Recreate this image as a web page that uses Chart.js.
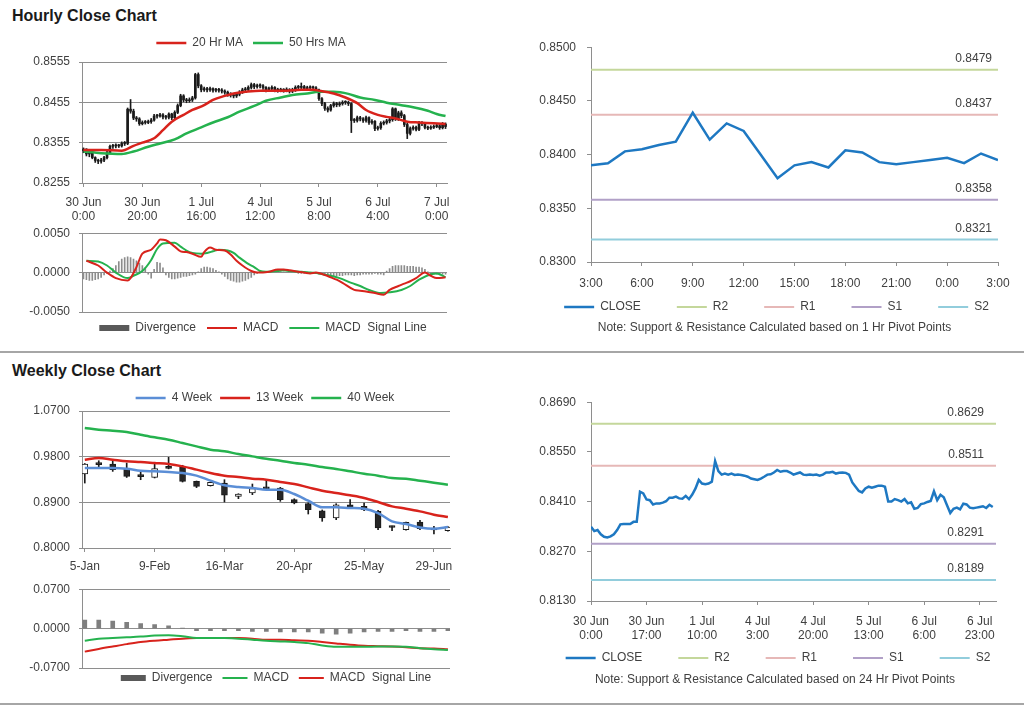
<!DOCTYPE html>
<html>
<head>
<meta charset="utf-8">
<title>Hourly and Weekly Close Charts</title>
<script src="https://cdn.jsdelivr.net/npm/chart.js@4.4.1/dist/chart.umd.min.js"></script>
<style>
  body { margin: 0; width: 1024px; height: 706px; position: relative; overflow: hidden; background: #fff; font-family: "Liberation Sans", Arial, sans-serif; }
  .title { position: absolute; left: 12px; font-size: 16px; font-weight: bold; color: #1a1a1a; }
  .rule { position: absolute; left: 0; width: 1024px; height: 2px; background: #a6a6a6; }
  canvas { position: absolute; }
</style>
</head>
<body>
<div class="title" style="top:7px">Hourly Close Chart</div>
<div class="rule" style="top:351px"></div>
<div class="title" style="top:362px">Weekly Close Chart</div>
<div class="rule" style="top:703px"></div>
<canvas id="hourCandles" width="502" height="200" style="left:0;top:28px"></canvas>
<canvas id="hourMacd" width="502" height="139" style="left:0;top:217px"></canvas>
<canvas id="hourPivots" width="534" height="338" style="left:490px;top:29px"></canvas>
<canvas id="weekCandles" width="502" height="201" style="left:0;top:379px"></canvas>
<canvas id="weekMacd" width="502" height="135" style="left:0;top:573px"></canvas>
<canvas id="dayPivots" width="534" height="338" style="left:490px;top:384px"></canvas>
<script>
// hourly bars, 30 Jun 0:00 -> 7 Jul 3:00, values in pips (0.xxxx)
const hOpen = [8335,8339,8327,8330,8318,8311,8309,8312,8318,8330,
  8346,8347,8347,8347,8353,8353,8438,8433,8416,8414,
  8402,8405,8405,8407,8411,8421,8421,8424,8419,8418,
  8426,8417,8430,8447,8471,8461,8459,8461,8466,8524,
  8496,8486,8489,8486,8489,8485,8486,8485,8483,8480,
  8475,8473,8471,8475,8480,8486,8487,8492,8499,8494,
  8496,8496,8492,8486,8489,8492,8486,8485,8486,8485,
  8486,8483,8486,8492,8492,8494,8489,8491,8492,8491,
  8486,8464,8452,8440,8436,8447,8452,8449,8452,8455,
  8455,8452,8410,8410,8417,8414,8410,8417,8405,8408,
  8390,8392,8403,8405,8409,8412,8439,8414,8429,8422,
  8400,8378,8390,8393,8388,8404,8402,8393,8391,8393,
  8395,8397,8392,8401];
const hHigh = [8342,8340,8333,8332,8320,8314,8316,8321,8334,8349,
  8351,8352,8351,8357,8358,8441,8462,8438,8420,8417,
  8409,8410,8411,8415,8425,8425,8428,8427,8423,8429,
  8428,8434,8451,8475,8474,8465,8466,8470,8527,8528,
  8499,8493,8492,8493,8491,8490,8490,8489,8486,8483,
  8479,8477,8479,8484,8490,8492,8496,8503,8502,8500,
  8501,8499,8494,8493,8496,8494,8490,8490,8489,8491,
  8489,8490,8496,8497,8503,8497,8495,8496,8495,8494,
  8488,8467,8455,8444,8450,8456,8455,8456,8459,8459,
  8458,8454,8415,8421,8420,8417,8421,8419,8412,8410,
  8396,8407,8409,8413,8416,8442,8441,8433,8434,8425,
  8403,8394,8397,8396,8408,8407,8405,8396,8397,8399,
  8401,8400,8405,8404];
const hLow = [8330,8322,8320,8315,8306,8303,8304,8308,8315,8327,
  8341,8342,8343,8344,8348,8350,8428,8412,8408,8398,
  8399,8401,8402,8403,8408,8416,8418,8414,8413,8414,
  8412,8414,8427,8444,8456,8454,8455,8457,8463,8491,
  8481,8482,8481,8482,8480,8481,8480,8478,8475,8470,
  8468,8466,8467,8471,8477,8482,8483,8488,8489,8490,
  8491,8487,8481,8482,8485,8481,8480,8481,8480,8481,
  8478,8479,8482,8487,8488,8484,8485,8486,8486,8480,
  8460,8447,8435,8431,8433,8443,8444,8445,8448,8450,
  8447,8380,8405,8406,8409,8405,8406,8400,8401,8385,
  8386,8388,8399,8401,8404,8408,8410,8410,8417,8395,
  8365,8374,8386,8384,8385,8397,8389,8387,8388,8390,
  8392,8388,8389,8390];
const hClose = [8339,8327,8330,8318,8311,8309,8312,8318,8330,8346,
  8347,8347,8347,8353,8353,8438,8433,8416,8414,8402,
  8405,8405,8407,8411,8421,8421,8424,8419,8418,8426,
  8417,8430,8447,8471,8461,8459,8461,8466,8524,8496,
  8486,8489,8486,8489,8485,8486,8485,8483,8480,8475,
  8473,8471,8475,8480,8486,8487,8492,8499,8494,8496,
  8496,8492,8486,8489,8492,8486,8485,8486,8485,8486,
  8483,8486,8492,8492,8494,8489,8491,8492,8491,8486,
  8464,8452,8440,8436,8447,8452,8449,8452,8455,8455,
  8452,8410,8410,8417,8414,8410,8417,8405,8408,8390,
  8392,8403,8405,8409,8412,8439,8414,8429,8422,8400,
  8378,8390,8393,8388,8404,8402,8393,8391,8393,8395,
  8397,8392,8401,8395];

// moving averages (bar index, pips)
const ma20X = [0,6,13,17,20,24,27,30,34,37,41,44,48,51,55,60,65,69,74,78,80,85,89,93,96,100,103,106,110,114,119,123];
const ma20 = [8337,8337,8335,8347,8355,8366,8386,8407,8424,8436,8448,8461,8471,8477,8481,8484,8484,8484,8486,8486,8484,8477,8467,8453,8436,8424,8419,8415,8407,8405,8403,8401];
const ma50X = [0,6,13,17,22,26,31,35,40,44,49,53,58,62,67,71,76,80,85,90,94,99,103,108,112,117,120,123];
const ma50 = [8333,8329,8327,8333,8345,8353,8363,8378,8393,8405,8418,8432,8446,8459,8467,8473,8477,8481,8481,8476,8467,8461,8454,8448,8443,8434,8426,8421];

// hourly MACD (units of 0.0001)
const macdX = [1,5,8,11,15,16,18,20,23,25,26,28,31,33,35,37,40,41,43,45,48,50,52,54,57,59,61,63,66,68,70,73,75,77,79,82,84,86,88,92,94,96,99,102,104,107,109,111,113,116,118,120,123];
const macd = [15,9,0,-7,-10,-7,7,24,29,37,42,41,33,27,26,24,20,26,32,29,28,23,15,9,2,0,0,1,4,4,3,1,0,-1,0,-3,-6,-9,-13,-22,-23,-24,-26,-28,-22,-17,-14,-11,-7,0,-4,-7,-6];
const sigX = [1,5,8,11,15,17,20,23,25,27,31,33,35,37,40,42,44,46,49,51,53,56,58,60,62,66,68,70,74,77,80,84,87,91,94,97,101,104,108,111,114,118,120,123];
const sig = [15,14,9,0,-7,-4,2,16,30,37,38,33,28,25,24,25,27,29,28,25,19,11,7,2,1,2,3,2,1,0,-1,-4,-7,-13,-17,-22,-26,-25,-22,-17,-9,-2,-1,-6];
const hDiv = [-8,-9,-10,-10,-9,-8,-6,-3,-1,2,
  5,9,14,17,19,20,19,17,15,12,
  9,6,-2,-7,4,13,12,6,-3,-6,
  -8,-8,-7,-6,-5,-5,-4,-3,-2,1,
  5,7,7,6,5,3,1,-2,-5,-8,
  -10,-11,-12,-12,-11,-10,-8,-6,-3,-1,
  1,1,1,1,1,0,1,1,1,0,
  0,0,0,-1,-1,-1,-1,-1,-1,-1,
  -2,-2,-3,-3,-3,-4,-4,-4,-4,-3,
  -3,-3,-4,-3,-3,-2,-2,-2,-2,-1,
  -2,-2,-3,2,5,8,9,9,9,9,
  8,8,8,7,7,6,4,1,-2,-2,
  -2,-3,-2,-2];

const hTickIdx = [0,20,40,60,80,100,120];
const hTickLabels = [["30 Jun","0:00"],["30 Jun","20:00"],["1 Jul","16:00"],["4 Jul","12:00"],["5 Jul","8:00"],["6 Jul","4:00"],["7 Jul","0:00"]];
const recentStart = 99;
const recentIdx = [0,3,6,9,12,15,18,21,24];
const recentLabels = ["3:00","6:00","9:00","12:00","15:00","18:00","21:00","0:00","3:00"];
const weekTickIdx = [0,17,34,51,68,85,102,119];
const weekTickLabels = [["30 Jun","0:00"],["30 Jun","17:00"],["1 Jul","10:00"],["4 Jul","3:00"],["4 Jul","20:00"],["5 Jul","13:00"],["6 Jul","6:00"],["6 Jul","23:00"]];

const pivotNames = ["R2","R1","S1","S2"];
const pivotColors = ["#c4d79b","#e6b8b7","#b1a0c7","#92cddc"];
const hourPivots = [0.8479,0.8437,0.8358,0.8321];
const dayPivots = [0.8629,0.8511,0.8291,0.8189];

// weekly bars
const wTickIdx = [0,5,10,15,20,25];
const wLabels = ["5-Jan","9-Feb","16-Mar","20-Apr","25-May","29-Jun"];
const wOpen = [0.9458,0.9665,0.9655,0.9557,0.9420,0.9393,0.9580,0.9590,0.9314,0.9228,0.9281,0.9019,0.9084,0.9175,0.9183,0.8952,0.8873,0.8735,0.8591,0.8853,0.8822,0.8723,0.8412,0.8361,0.8512,0.8365,0.8340];
const wClose = [0.9655,0.9642,0.9543,0.9413,0.9406,0.9563,0.9570,0.9314,0.9216,0.9295,0.9039,0.9064,0.9169,0.9165,0.8952,0.8887,0.8755,0.8591,0.8853,0.8802,0.8755,0.8394,0.8404,0.8506,0.8381,0.8355,0.8414];
const wHigh = [0.9665,0.9720,0.9720,0.9675,0.9510,0.9675,0.9787,0.9630,0.9320,0.9300,0.9346,0.9070,0.9261,0.9346,0.9196,0.8970,0.8890,0.8750,0.8873,0.8952,0.8887,0.8740,0.8430,0.8510,0.8546,0.8427,0.8420];
const wLow = [0.9280,0.9600,0.9510,0.9390,0.9346,0.9380,0.9560,0.9300,0.9190,0.9220,0.8907,0.8972,0.9051,0.9150,0.8920,0.8870,0.8670,0.8526,0.8558,0.8788,0.8735,0.8360,0.8340,0.8350,0.8360,0.8276,0.8330];
const w4 = [0.9577,0.9577,0.9577,0.9564,0.9524,0.9511,0.9498,0.9478,0.9426,0.9327,0.9235,0.9202,0.9182,0.9149,0.9149,0.9064,0.8932,0.8801,0.8801,0.8788,0.8775,0.8689,0.8525,0.8472,0.8406,0.8380,0.8413];
const w13 = [0.9741,0.9774,0.9741,0.9708,0.9695,0.9675,0.9655,0.9609,0.9544,0.9478,0.9426,0.9399,0.9366,0.9346,0.9300,0.9261,0.9195,0.9130,0.9084,0.9038,0.8985,0.8906,0.8821,0.8775,0.8722,0.8657,0.8611];
const w40 = [1.0365,1.0332,1.0312,1.0286,1.0233,1.0181,1.0135,1.0069,1.0003,0.9938,0.9905,0.9852,0.9806,0.9760,0.9721,0.9675,0.9642,0.9596,0.9557,0.9511,0.9465,0.9426,0.9379,0.9366,0.9327,0.9288,0.9248];
const wDiv = [0.0152,0.0152,0.0133,0.0110,0.0090,0.0073,0.0048,0.0005,-0.0036,-0.0036,-0.0036,-0.0036,-0.0048,-0.0048,-0.0060,-0.0060,-0.0060,-0.0079,-0.0097,-0.0079,-0.0060,-0.0048,-0.0048,-0.0036,-0.0048,-0.0048,-0.0036];
const wMacd = [-0.0215,-0.0179,-0.0167,-0.0155,-0.0142,-0.0124,-0.0118,-0.0136,-0.0167,-0.0167,-0.0167,-0.0179,-0.0197,-0.0215,-0.0227,-0.0239,-0.0258,-0.0300,-0.0324,-0.0324,-0.0324,-0.0318,-0.0318,-0.0324,-0.0348,-0.0367,-0.0379];
const wSignal = [-0.0409,-0.0361,-0.0318,-0.0276,-0.0239,-0.0215,-0.0197,-0.0179,-0.0167,-0.0167,-0.0167,-0.0167,-0.0179,-0.0197,-0.0197,-0.0209,-0.0215,-0.0239,-0.0264,-0.0288,-0.0306,-0.0312,-0.0318,-0.0330,-0.0348,-0.0355,-0.0367];

const aTicks = [0.8255,0.8355,0.8455,0.8555];
const bTicks = [-0.005,0,0.005];
const cTicks = [0.83,0.835,0.84,0.845,0.85];
const dTicks = [0.8,0.89,0.98,1.07];
const eTicks = [-0.07,0,0.07];
const fTicks = [0.813,0.827,0.841,0.855,0.869];

const FONT = '"Liberation Sans", Arial, sans-serif';
const TXT = '#404040', GRID = '#8e8e8e';
const RED = '#d8231c', GREEN = '#25b24e', BLUE = '#1e78c2';
Chart.defaults.font.family = FONT;
Chart.defaults.font.size = 12;
Chart.defaults.color = TXT;

const pip = v => v / 10000;
const pts = (xs, ys, k) => xs.map((x, i) => ({ x: x, y: ys[i] * k }));
const seq = ys => ys.map((y, i) => ({ x: i, y: y }));

// move legend / note to where the original puts them
function place(legendAt, noteAt) {
  return {
    id: 'place',
    afterLayout(chart) {
      const lg = chart.legend;
      if (legendAt && lg) {
        const dy = legendAt[1] - (lg.top + lg.options.labels.padding + 6);
        const dx = legendAt[0] - (lg.left + lg.right) / 2;
        lg.top += dy; lg.bottom += dy; lg.left += dx; lg.right += dx;
      }
      const tb = chart.titleBlock;
      if (noteAt && tb) {
        const dy = noteAt[1] - (tb.top + 7.2);
        const dx = noteAt[0] - (tb.left + tb.right) / 2;
        tb.top += dy; tb.bottom += dy; tb.left += dx; tb.right += dx;
      }
    }
  };
}

function pivotLabels(vals, inset) {
  return {
    id: 'pivotLabels',
    afterDatasetsDraw(chart) {
      const ctx = chart.ctx, y = chart.scales.y;
      ctx.save();
      ctx.font = '12px ' + FONT;
      ctx.fillStyle = TXT;
      ctx.textAlign = 'right';
      ctx.textBaseline = 'middle';
      vals.forEach(v => ctx.fillText(v.toFixed(4), chart.chartArea.right - inset, y.getPixelForValue(v) - 11));
      ctx.restore();
    }
  };
}

function legendOpts(pos, pad, sw) {
  return {
    position: pos,
    labels: {
      padding: pad, usePointStyle: true, pointStyle: 'line', pointStyleWidth: sw,
      color: TXT, font: { size: 12 },
      filter: item => !!item.text,
      sort: (a, b) => a.datasetIndex - b.datasetIndex,
      generateLabels: chart => Chart.defaults.plugins.legend.labels.generateLabels(chart).map(item => {
        const ds = chart.data.datasets[item.datasetIndex];
        item.lineWidth = ds.legendWidth || ds.borderWidth;
        item.strokeStyle = ds.legendColor || ds.borderColor;
        return item;
      })
    }
  };
}

function yAxis(ticks, o) {
  return {
    min: ticks[0], max: ticks[ticks.length - 1],
    afterBuildTicks: s => { s.ticks = ticks.map(v => ({ value: v })); },
    afterFit: s => { s.width = o.w; },
    ticks: { padding: o.pad, color: TXT, font: { size: 12 }, callback: v => v.toFixed(4) },
    grid: { color: GRID, drawOnChartArea: o.grid, tickLength: o.tl },
    border: { color: GRID }
  };
}

function xAxis(min, max, idx, labels, show, h, pad) {
  return {
    type: 'linear', display: show, min: min, max: max, offset: false,
    afterBuildTicks: s => { s.ticks = idx.map(v => ({ value: v })); },
    afterFit: s => { s.height = h; },
    ticks: { autoSkip: false, maxRotation: 0, padding: pad, color: TXT, font: { size: 12, lineHeight: 1.17 },
      callback: (v, i) => labels[i] },
    grid: { offset: false, drawOnChartArea: false, tickLength: 4, color: GRID },
    border: { color: GRID }
  };
}

function base(padding) {
  return { responsive: false, animation: false, events: [], devicePixelRatio: 1, layout: { padding: padding } };
}

function lineSet(label, data, color, width, order, smooth) {
  const ds = { type: 'line', label: label, data: data, borderColor: color, backgroundColor: color, borderWidth: width,
    pointRadius: 0, order: order };
  if (smooth) ds.cubicInterpolationMode = 'monotone';
  return ds;
}

// Hourly candles
new Chart(document.getElementById('hourCandles'), {
  type: 'bar',
  data: { datasets: [
    lineSet('20 Hr MA', pts(ma20X, ma20, 1e-4), RED, 2.5, 0, true),
    lineSet('50 Hrs MA', pts(ma50X, ma50, 1e-4), GREEN, 2.5, 0, true),
    { label: '', data: hLow.map((v, i) => ({ x: i, y: [pip(v), pip(hHigh[i])] })), backgroundColor: '#1a1a1a',
      barThickness: 1, grouped: false, order: 2 },
    { label: '', data: hOpen.map((v, i) => ({ x: i, y: [pip(v), pip(hClose[i])] })), backgroundColor: '#1a1a1a',
      barThickness: 2, minBarLength: 1, grouped: false, order: 1 }
  ]},
  options: Object.assign(base({ left: 0, top: 2, right: 55, bottom: 5 }), {
    plugins: { legend: legendOpts('top', 10, 30), tooltip: { enabled: false } },
    scales: { x: xAxis(-0.5, 123.5, hTickIdx, hTickLabels, true, 40, 9), y: yAxis(aTicks, { w: 82, pad: 9, tl: 3, grid: true }) }
  }),
  plugins: [place([251, 15])]
});

// Hourly MACD
new Chart(document.getElementById('hourMacd'), {
  type: 'bar',
  data: { datasets: [
    { label: 'Divergence', data: hDiv.map((v, i) => ({ x: i, y: v * 1e-4 })), backgroundColor: '#8c8c8c',
      barThickness: 1, grouped: false, order: 1, legendWidth: 6, legendColor: '#595959' },
    lineSet('MACD', pts(macdX, macd, 1e-4), RED, 2, 0, true),
    lineSet('MACD  Signal Line', pts(sigX, sig, 1e-4), GREEN, 2, 0, true)
  ]},
  options: Object.assign(base({ left: 0, top: 0, right: 55, bottom: 11 }), {
    plugins: { legend: legendOpts('bottom', 11, 30), tooltip: { enabled: false } },
    scales: { x: xAxis(-0.5, 123.5, hTickIdx, hTickLabels, false, 0, 0), y: yAxis(bTicks, { w: 82, pad: 9, tl: 3, grid: true }) }
  }),
  plugins: [place([263, 111])]
});

function pivotSets(vals, xEnd) {
  return vals.map((v, k) => lineSet(pivotNames[k], [{ x: 0, y: v }, { x: xEnd, y: v }], pivotColors[k], 2, 1, false));
}

// Hourly close with 1 hr pivots
new Chart(document.getElementById('hourPivots'), {
  type: 'line',
  data: { datasets: [lineSet('CLOSE', seq(hClose.slice(recentStart).map(pip)), BLUE, 2.5, 0, false)].concat(pivotSets(hourPivots, 24)) },
  options: Object.assign(base({ left: 0, top: 0, right: 26, bottom: 2.6 }), {
    plugins: {
      legend: legendOpts('bottom', 36, 30), tooltip: { enabled: false },
      title: { display: true, position: 'bottom', text: 'Note: Support & Resistance Calculated based on 1 Hr Pivot Points',
        color: TXT, padding: 0, font: { size: 12, weight: 'normal', lineHeight: 1.2 } }
    },
    scales: { x: xAxis(0, 24, recentIdx, recentLabels, true, 30, 11), y: yAxis(cTicks, { w: 101, pad: 11, tl: 4, grid: false }) }
  }),
  plugins: [place([286.5, 278], [284.5, 299]), pivotLabels(hourPivots, 6)]
});

// Weekly candles
new Chart(document.getElementById('weekCandles'), {
  type: 'bar',
  data: { datasets: [
    lineSet('4 Week', seq(w4), '#5b8ed6', 2.5, 0, true),
    lineSet('13 Week', seq(w13), RED, 2.5, 0, true),
    lineSet('40 Week', seq(w40), GREEN, 2.5, 0, true),
    { label: '', data: wLow.map((v, i) => ({ x: i, y: [v, wHigh[i]] })), backgroundColor: '#1a1a1a',
      barThickness: 1, grouped: false, order: 2 },
    { label: '', data: wOpen.map((v, i) => ({ x: i, y: [v, wClose[i]] })),
      backgroundColor: wOpen.map((o, i) => wClose[i] < o ? '#262626' : '#ffffff'),
      borderColor: '#1a1a1a', borderWidth: 1, borderSkipped: false,
      barThickness: 6, minBarLength: 2, grouped: false, order: 1 }
  ]},
  options: Object.assign(base({ left: 0, top: 2, right: 52, bottom: 2 }), {
    plugins: { legend: legendOpts('top', 8, 30), tooltip: { enabled: false } },
    scales: { x: xAxis(-0.2, 26.15, wTickIdx, wLabels, true, 30, 8), y: yAxis(dTicks, { w: 82, pad: 9, tl: 3, grid: true }) }
  }),
  plugins: [place([265, 19])]
});

// Weekly MACD
new Chart(document.getElementById('weekMacd'), {
  type: 'bar',
  data: { datasets: [
    { label: 'Divergence', data: seq(wDiv), backgroundColor: '#7f7f7f', barThickness: 4, grouped: false, order: 1,
      legendWidth: 6, legendColor: '#595959' },
    lineSet('MACD', seq(wMacd), GREEN, 2, 0, true),
    lineSet('MACD  Signal Line', seq(wSignal), RED, 2, 0, true)
  ]},
  options: Object.assign(base({ left: 0, top: 0, right: 52, bottom: 8 }), {
    plugins: { legend: legendOpts('bottom', 10, 25), tooltip: { enabled: false } },
    scales: { x: xAxis(-0.2, 26.15, wTickIdx, wLabels, false, 0, 0), y: yAxis(eTicks, { w: 82, pad: 9, tl: 3, grid: true }) }
  }),
  plugins: [place([276, 105])]
});

// Hourly close over the week with 24 hr pivots
new Chart(document.getElementById('dayPivots'), {
  type: 'line',
  data: { datasets: [lineSet('CLOSE', seq(hClose.map(pip)), BLUE, 2.5, 0, false)].concat(pivotSets(dayPivots, 124)) },
  options: Object.assign(base({ left: 0, top: 0, right: 28, bottom: 4.6 }), {
    plugins: {
      legend: legendOpts('bottom', 36, 30), tooltip: { enabled: false },
      title: { display: true, position: 'bottom', text: 'Note: Support & Resistance Calculated based on 24 Hr Pivot Points',
        color: TXT, padding: 0, font: { size: 12, weight: 'normal', lineHeight: 1.2 } }
    },
    scales: { x: xAxis(0, 124, weekTickIdx, weekTickLabels, true, 44, 10), y: yAxis(fTicks, { w: 101, pad: 11, tl: 4, grid: false }) }
  }),
  plugins: [place([288, 274], [285, 296]), pivotLabels(dayPivots, 12)]
});
</script>
</body>
</html>
